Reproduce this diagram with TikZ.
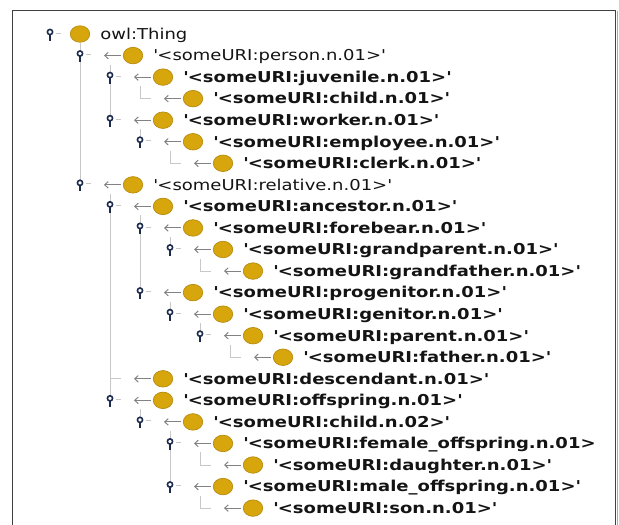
\documentclass[tikz,border=0pt]{standalone}
\usepackage{fontspec}
\setmainfont{DejaVu Sans}[FakeStretch=1.2]
\usetikzlibrary{arrows.meta,shapes.geometric,backgrounds}
\definecolor{classgold}{RGB}{214,166,12}
\definecolor{classedge}{RGB}{184,140,16}
\definecolor{handlenavy}{RGB}{28,42,78}
\definecolor{treegray}{RGB}{200,200,200}
\definecolor{arrowgray}{RGB}{130,130,130}
\definecolor{framegray}{RGB}{64,64,64}
\definecolor{labelink}{RGB}{20,20,20}
\newcommand\qs{\textquotesingle}
\tikzset{
  treeline/.style={draw=treegray, line width=0.9pt},
  subarrow/.style={draw=arrowgray, line width=1pt, -{Straight Barb[length=3.5pt,width=6.5pt]}},
  classdot/.style={ellipse, draw=classedge, line width=0.7pt, fill=classgold,
    minimum width=19.5pt, minimum height=16.5pt, inner sep=0pt},
  handle/.style={draw=handlenavy, line width=1.6pt},
  classlabel/.style={anchor=base west, inner sep=0pt, text=labelink,
    font=\fontsize{15}{18}\selectfont},
}
\begin{document}
\begin{tikzpicture}[x=1pt,y=-1pt]
\useasboundingbox (0,0) rectangle (619,525);
% window frame
\draw[framegray!45, line width=1pt] (617.5,11) -- (617.5,530);
\draw[framegray, line width=1.4pt] (12.5,540) -- (12.5,10.5) -- (615.5,10.5) -- (615.5,540);

% rows: index / depth / has children (1) or leaf (0) / bold (1) / label
\foreach \i/\lv/\kind/\wt/\txt in {
  0/0/1/0/owl:Thing,
  1/1/1/0/\qs<someURI:person.n.01>\qs,
  2/2/1/1/\qs<someURI:juvenile.n.01>\qs,
  3/3/0/1/\qs<someURI:child.n.01>\qs,
  4/2/1/1/\qs<someURI:worker.n.01>\qs,
  5/3/1/1/\qs<someURI:employee.n.01>\qs,
  6/4/0/1/\qs<someURI:clerk.n.01>\qs,
  7/1/1/0/\qs<someURI:relative.n.01>\qs,
  8/2/1/1/\qs<someURI:ancestor.n.01>\qs,
  9/3/1/1/\qs<someURI:forebear.n.01>\qs,
  10/4/1/1/\qs<someURI:grandparent.n.01>\qs,
  11/5/0/1/\qs<someURI:grandfather.n.01>\qs,
  12/3/1/1/\qs<someURI:progenitor.n.01>\qs,
  13/4/1/1/\qs<someURI:genitor.n.01>\qs,
  14/5/1/1/\qs<someURI:parent.n.01>\qs,
  15/6/0/1/\qs<someURI:father.n.01>\qs,
  16/2/0/1/\qs<someURI:descendant.n.01>\qs,
  17/2/1/1/\qs<someURI:offspring.n.01>\qs,
  18/3/1/1/\qs<someURI:child.n.02>\qs,
  19/4/1/1/\qs<someURI:female\_offspring.n.01>,
  20/5/0/1/\qs<someURI:daughter.n.01>\qs,
  21/4/1/1/\qs<someURI:male\_offspring.n.01>\qs,
  22/5/0/1/\qs<someURI:son.n.01>\qs}{
  \pgfmathsetmacro\yy{34+21.55*\i}
  \pgfmathsetmacro\xx{50+30*\lv}
  \coordinate (p\i) at (\xx,\yy);
  \coordinate (k\i) at (\xx+30,\yy+9);
  \coordinate (e\i) at (\xx+11,\yy);
  \ifnum\lv=0
    \node[classdot] (c\i) at (\xx+30,\yy) {};
  \else
    \node[classdot] (c\i) at (\xx+53,\yy) {};
    \coordinate (b\i) at (\xx+41,\yy);
    \coordinate (a\i) at (\xx+24,\yy);
    \draw[subarrow] (b\i) -- (a\i);
  \fi
  \ifnum\wt=1
    \node[classlabel, font=\fontsize{15}{18}\selectfont\bfseries] (t\i) at ([xshift=10pt,yshift=-5.3pt]c\i.east) {\txt};
  \else
    \node[classlabel] (t\i) at ([xshift=10pt,yshift=-5.3pt]c\i.east) {\txt};
  \fi
  \ifnum\kind=1
    \draw[treeline] ([xshift=5.5pt,yshift=1pt]p\i) -- ([xshift=11pt,yshift=1pt]p\i);
    \draw[handle] ([yshift=-0.5pt]p\i) -- ([yshift=-6.5pt]p\i);
    \draw[handle, fill=white] ([yshift=2pt]p\i) circle[radius=2.6pt];
  \fi
}

% hierarchy guide lines
\begin{pgfonlayer}{background}
  \draw[treeline] (k0) -- (p7);
  \draw[treeline] (k1) -- (p4);
  \draw[treeline] (k2) |- (e3);
  \draw[treeline] (k4) -- (p5);
  \draw[treeline] (k5) |- (e6);
  \draw[treeline] (k7) -- (p17);
  \draw[treeline] (k8) -- (p12);
  \draw[treeline] (k9) -- (p10);
  \draw[treeline] (k10) |- (e11);
  \draw[treeline] (k12) -- (p13);
  \draw[treeline] (k13) -- (p14);
  \draw[treeline] (k14) |- (e15);
  \draw[treeline] (p16) -- (e16);
  \draw[treeline] (k17) -- (p18);
  \draw[treeline] (k18) -- (p21);
  \draw[treeline] (k19) |- (e20);
  \draw[treeline] (k21) |- (e22);
\end{pgfonlayer}
\end{tikzpicture}
\end{document}
